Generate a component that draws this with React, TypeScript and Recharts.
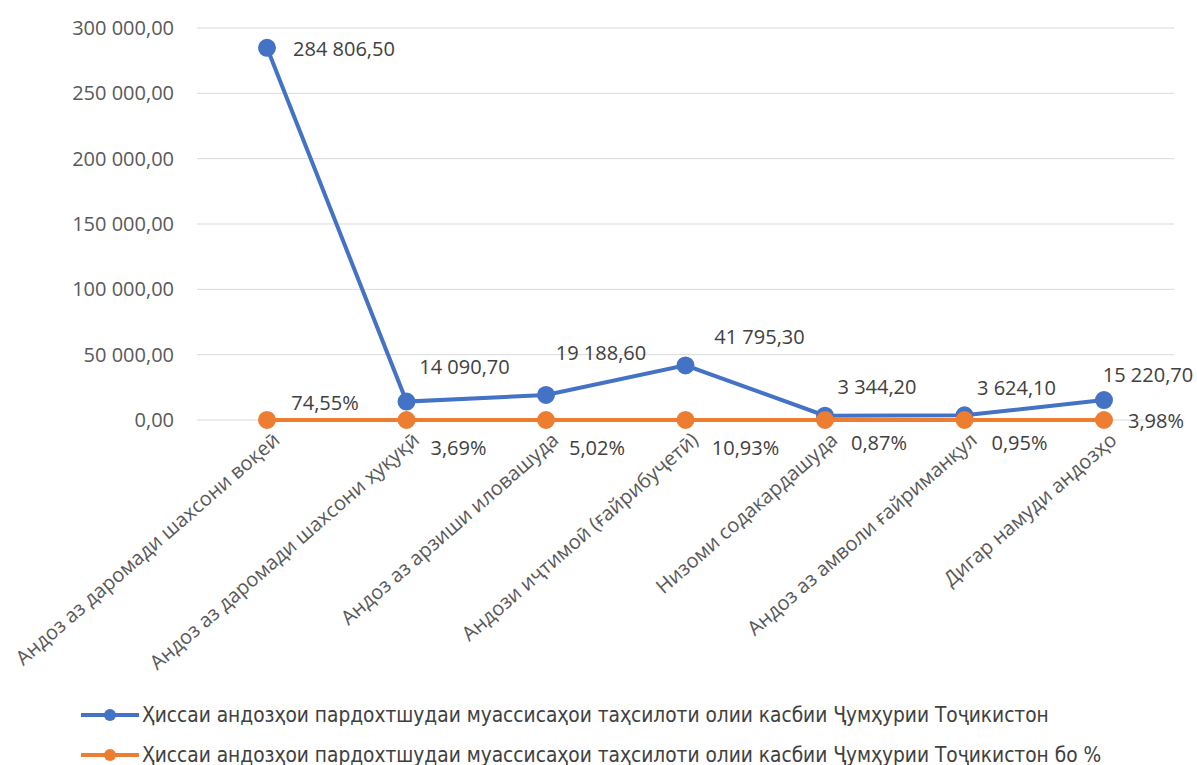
import { CartesianGrid, LabelList, Legend, Line, LineChart, XAxis, YAxis } from 'recharts'

const categories = [
  'Андоз аз даромади шахсони воқеӣ',
  'Андоз аз даромади шахсони ҳуқуқӣ',
  'Андоз аз арзиши иловашуда',
  'Андози иҷтимоӣ (ғайрибуҷетӣ)',
  'Низоми содакардашуда',
  'Андоз аз амволи ғайриманқул',
  'Дигар намуди андозҳо',
]
const amounts = [284806.5, 14090.7, 19188.6, 41795.3, 3344.2, 3624.1, 15220.7]
const shares = [74.55, 3.69, 5.02, 10.93, 0.87, 0.95, 3.98]
const yTicks = [0, 50000, 100000, 150000, 200000, 250000, 300000]
const edgeTicks = [0, 1, 2, 3, 4, 5, 6, 7]
const seriesNames = [
  'Ҳиссаи андозҳои пардохтшудаи муассисаҳои таҳсилоти олии касбии Ҷумҳурии Тоҷикистон',
  'Ҳиссаи андозҳои пардохтшудаи муассисаҳои таҳсилоти олии касбии Ҷумҳурии Тоҷикистон бо %',
]

const BLUE = '#4472C4'
const ORANGE = '#ED7D31'
const FONT = '"Open Sans", sans-serif'

// label centre offsets from each point, [dx, dy]
const amountOffsets = [[77, 1], [58, -35], [55, -42], [74, -29], [52, -29], [52, -28], [44, -26]]
const shareOffsets = [[58, -17], [52, 28], [51, 28], [60, 28], [54, 23], [55, 23], [52, 1]]

const chartData = categories.map((name, i) => ({ name, amount: amounts[i], share: shares[i] }))

const fmt = (v: number) => {
  const [int, dec] = v.toFixed(2).split('.')
  return `${int.replace(/\B(?=(\d{3})+(?!\d))/g, ' ')},${dec}`
}

const makeLabel = (offsets: number[][], format: (v: number) => string) => (props: any) => {
  const { x, y, value, index } = props
  const [dx, dy] = offsets[index]
  return (
    <text x={x + dx} y={y + dy} textAnchor="middle" dominantBaseline="central" fill="#404040" fontSize={20} fontFamily={FONT}>
      {format(value)}
    </text>
  )
}

const CategoryTick = ({ x, y, payload }: any) => (
  <text
    x={x + 14}
    y={y + 14}
    transform={`rotate(-41, ${x + 14}, ${y + 14})`}
    textAnchor="end"
    fill="#595959"
    fontSize={20}
    fontFamily={FONT}
  >
    {payload.value}
  </text>
)

const LegendBox = () => (
  <div style={{ height: 70, paddingLeft: 81, fontFamily: '"Liberation Sans Narrow", "DejaVu Sans Condensed", sans-serif', fontSize: 20.7, color: '#404040' }}>
    {seriesNames.map((name, i) => (
      <div key={name} style={{ display: 'flex', alignItems: 'center', height: 40, marginTop: i === 0 ? 6 : 0, whiteSpace: 'nowrap' }}>
        <svg width={58} height={14} style={{ marginRight: 3 }}>
          <line x1={0} y1={7} x2={58} y2={7} stroke={i === 0 ? BLUE : ORANGE} strokeWidth={4} />
          <circle cx={29} cy={7} r={6} fill={i === 0 ? BLUE : ORANGE} />
        </svg>
        <span>{name}</span>
      </div>
    ))}
  </div>
)

export default function App() {
  return (
    <div style={{ position: 'absolute', left: 0, top: 0, width: 1197, height: 765, background: '#fff' }}>
      <LineChart width={1197} height={765} data={chartData} margin={{ top: 28, right: 23, left: 0, bottom: 0 }}>
        <CartesianGrid vertical={false} stroke="#d9d9d9" />
        <XAxis
          xAxisId="edges"
          type="number"
          domain={[0, 7]}
          ticks={edgeTicks}
          height={0}
          tick={false}
          tickSize={6}
          stroke="#d9d9d9"
        />
        <XAxis
          dataKey="name"
          height={269}
          padding={{ left: 70, right: 70 }}
          tick={<CategoryTick />}
          tickLine={false}
          axisLine={false}
          interval={0}
        />
        <YAxis
          width={197}
          domain={[0, 300000]}
          ticks={yTicks}
          tickFormatter={fmt}
          axisLine={false}
          tickLine={false}
          tickMargin={17}
          tick={{ fill: '#595959', fontSize: 20, fontFamily: FONT }}
        />
        <Legend verticalAlign="bottom" align="left" content={<LegendBox />} />
        <Line dataKey="amount" stroke={BLUE} strokeWidth={4} dot={{ r: 7, fill: BLUE, stroke: BLUE }} isAnimationActive={false}>
          <LabelList dataKey="amount" content={makeLabel(amountOffsets, fmt)} />
        </Line>
        <Line dataKey="share" stroke={ORANGE} strokeWidth={4} dot={{ r: 7, fill: ORANGE, stroke: ORANGE }} isAnimationActive={false}>
          <LabelList dataKey="share" content={makeLabel(shareOffsets, (v) => `${v.toFixed(2).replace('.', ',')}%`)} />
        </Line>
      </LineChart>
    </div>
  )
}
